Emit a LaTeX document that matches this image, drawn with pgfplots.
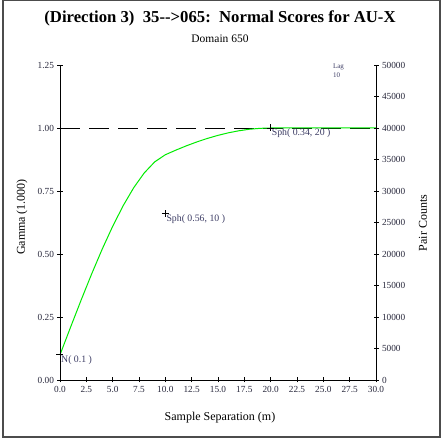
\documentclass[border=0pt]{standalone}
\usepackage{pgfplots}
\pgfplotsset{compat=1.18}
\usepackage{fontspec}
\setmainfont{Liberation Serif}
\definecolor{anno}{RGB}{60,60,100}
\definecolor{tk}{RGB}{40,40,60}
\begin{document}
\begin{tikzpicture}
\useasboundingbox (-60pt,-63pt) rectangle (382pt,380pt);
\draw[line width=1.6pt, black!70] (-57pt,-57pt) rectangle (380pt,379.5pt);
\begin{axis}[
  at={(0,0)}, anchor=origin,
  scale only axis, width=316pt, height=315pt,
  xmin=0, xmax=30, ymin=0, ymax=1.25,
  axis x line*=bottom, axis y line*=left,
  axis line style={-, line width=0.8pt},
  xtick={0,2.5,...,30}, ytick={0,0.25,...,1.25},
  tick align=center, major tick length=5pt,
  tick style={line width=0.8pt, black},
  /pgf/number format/assume math mode=true,
  xticklabel style={/pgf/number format/.cd, fixed, fixed zerofill, precision=1},
  yticklabel style={/pgf/number format/.cd, fixed, fixed zerofill, precision=2},
  ticklabel style={font=\fontsize{9.3}{10}\selectfont, text=tk},
  clip=false,
]
\addplot[black, line width=0.8pt, dash pattern=on 20pt off 9pt] coordinates {(0,1) (30,1)};
\addplot[color={rgb,255:red,0;green,235;blue,0}, line width=1pt] coordinates {
(0,0.1) (1,0.2092) (2,0.3166) (3,0.4204) (4,0.5187) (5,0.6098) (6,0.6919) (7,0.7632)
(8,0.8218) (9,0.8659) (10,0.8938) (11,0.9122) (12,0.9293) (13,0.9448) (14,0.9587)
(15,0.9708) (16,0.9810) (17,0.9891) (18,0.9951) (19,0.9987) (20,1.0) (30,1.0)};
\addplot[only marks, mark=+, mark size=3.5pt, black, line width=0.7pt] coordinates {(0,0.1) (10,0.66) (20,1.0)};
\node[anchor=north west, inner sep=1pt, text=anno, font=\fontsize{9.8}{10}\selectfont] at (axis cs:0,0.1) {N( 0.1 )};
\node[anchor=north west, inner sep=1pt, text=anno, font=\fontsize{9.8}{10}\selectfont] at (axis cs:10,0.66) {Sph( 0.56, 10 )};
\node[anchor=north west, inner sep=1pt, text=anno, font=\fontsize{9.8}{10}\selectfont] at (axis cs:20,1.0) {Sph( 0.34, 20 )};
\node[anchor=north west, inner sep=0pt, text=anno, font=\fontsize{7}{8.5}\selectfont, align=left] at (axis cs:25.9,1.255) {Lag\\10};
\end{axis}
\begin{axis}[
  at={(0,0)}, anchor=origin,
  scale only axis, width=316pt, height=315pt,
  xmin=0, xmax=30, ymin=0, ymax=50000,
  axis x line=none, axis y line*=right,
  axis line style={-, line width=0.8pt},
  ytick={0,5000,...,50000},
  tick align=center, major tick length=5pt,
  tick style={line width=0.8pt, black},
  scaled y ticks=false,
  /pgf/number format/assume math mode=true,
  yticklabel style={/pgf/number format/.cd, fixed, set thousands separator={}},
  ticklabel style={font=\fontsize{9.3}{10}\selectfont, text=tk},
]
\addplot[draw=none] coordinates {(0,0) (30,50000)};
\end{axis}
\node[font=\bfseries\fontsize{16.7}{18}\selectfont] at (160pt,362pt) {(Direction 3)\ \ 35{-}{-}>065:\ \ Normal Scores for AU-X};
\node[font=\fontsize{11.5}{13}\selectfont] at (160pt,341pt) {Domain 650};
\node[rotate=90, font=\fontsize{12}{14}\selectfont] at (-38pt,163pt) {Gamma (1.000)};
\node[rotate=90, font=\fontsize{12}{14}\selectfont] at (363pt,157pt) {Pair Counts};
\node[font=\fontsize{12}{14}\selectfont] at (160pt,-38pt) {Sample Separation (m)};
\end{tikzpicture}
\end{document}
